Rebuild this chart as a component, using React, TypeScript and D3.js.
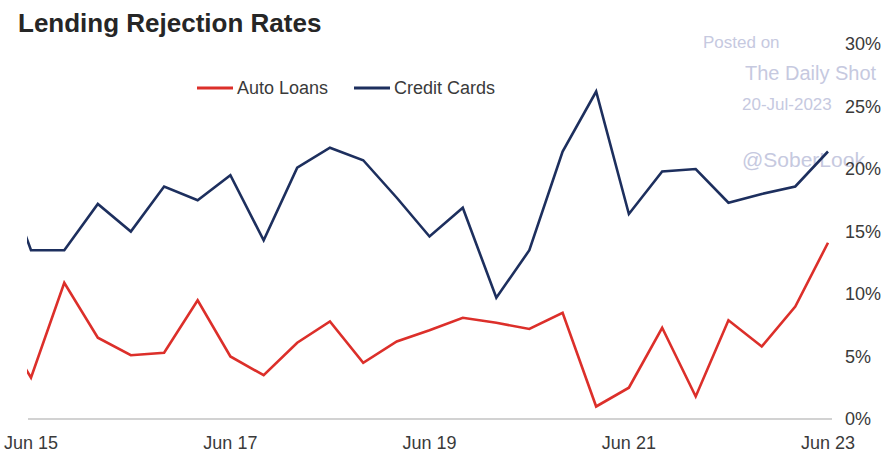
import React from "react";
import * as d3 from "d3";

const dates: string[] = [
  "2015-02-01", "2015-06-01", "2015-10-01", "2016-02-01", "2016-06-01", "2016-10-01",
  "2017-02-01", "2017-06-01", "2017-10-01", "2018-02-01", "2018-06-01", "2018-10-01",
  "2019-02-01", "2019-06-01", "2019-10-01", "2020-02-01", "2020-06-01", "2020-10-01",
  "2021-02-01", "2021-06-01", "2021-10-01", "2022-02-01", "2022-06-01", "2022-10-01",
  "2023-02-01", "2023-06-01",
];
const autoLoans: number[] = [
  7.7, 3.3, 10.9, 6.5, 5.1, 5.3, 9.5, 5.0, 3.5, 6.1, 7.8, 4.5, 6.2, 7.1, 8.1, 7.7, 7.2, 8.5,
  1.0, 2.5, 7.3, 1.8, 7.9, 5.8, 9.0, 14.1,
];
const creditCards: number[] = [
  20.7, 13.5, 13.5, 17.2, 15.0, 18.6, 17.5, 19.5, 14.3, 20.1, 21.7, 20.7, 17.7, 14.6, 16.9,
  9.7, 13.5, 21.4, 26.2, 16.4, 19.8, 20.0, 17.3, 18.0, 18.6, 21.4,
];
const yTicks: number[] = [0, 5, 10, 15, 20, 25, 30];
const xTickDates: string[] = ["2015-06-01", "2017-06-01", "2019-06-01", "2021-06-01", "2023-06-01"];
const xTickLabels: string[] = ["Jun 15", "Jun 17", "Jun 19", "Jun 21", "Jun 23"];
const seriesNames: string[] = ["Auto Loans", "Credit Cards"];
const seriesColors: string[] = ["#dc2f2a", "#1d2f5e"];

const W = 890;
const H = 452;

export default function App() {
  const parse = d3.timeParse("%Y-%m-%d");
  const xs = dates.map((d) => parse(d) as Date);
  const x = d3
    .scaleTime()
    .domain([parse("2015-06-01") as Date, parse("2023-06-01") as Date])
    .range([31, 828]);
  const y = d3.scaleLinear().domain([0, 30]).range([419, 44]);
  const line = d3
    .line<number>()
    .x((_, i) => x(xs[i]))
    .y((v) => y(v));
  const series = [autoLoans, creditCards];
  const font = "'Liberation Sans', Arial, sans-serif";
  const wm = "#c6c9df";

  return (
    <svg
      width={W}
      height={H}
      style={{ position: "absolute", left: 0, top: 0, background: "#fff" }}
      fontFamily={font}
    >
      <defs>
        <clipPath id="plot">
          <rect x={27} y={0} width={806} height={H} />
        </clipPath>
      </defs>
      <text x={18} y={32} fontSize={26} fontWeight="bold" fill="#262626">
        Lending Rejection Rates
      </text>

      {/* legend */}
      {seriesNames.map((n, i) => {
        const lx = i === 0 ? 197 : 354;
        return (
          <g key={n}>
            <line x1={lx} x2={lx + 36} y1={88} y2={88} stroke={seriesColors[i]} strokeWidth={3} />
            <text x={lx + 40} y={94} fontSize={18} fill="#3a3a3a">
              {n}
            </text>
          </g>
        );
      })}

      {/* watermark */}
      <text x={703} y={48} fontSize={17} fill={wm}>Posted on</text>
      <text x={745} y={80} fontSize={20} fill={wm}>The Daily Shot</text>
      <text x={742} y={110} fontSize={17} fill={wm}>20-Jul-2023</text>
      <text x={742} y={167} fontSize={21} fill={wm}>@SoberLook</text>

      {/* baseline */}
      <line x1={28} x2={832} y1={y(0)} y2={y(0)} stroke="#d2d2d2" strokeWidth={2} />

      {/* y axis labels */}
      {yTicks.map((t) => (
        <text key={t} x={845} y={y(t)} dy="0.36em" fontSize={18} fill="#3a3a3a">
          {t}%
        </text>
      ))}

      {/* x axis labels */}
      {xTickDates.map((d, i) => (
        <text key={d} x={x(parse(d) as Date)} y={449} textAnchor="middle" fontSize={18} fill="#3a3a3a">
          {xTickLabels[i]}
        </text>
      ))}

      <g clipPath="url(#plot)">
        {series.map((s, i) => (
          <path
            key={i}
            d={line(s) || ""}
            fill="none"
            stroke={seriesColors[i]}
            strokeWidth={2.6}
            strokeLinejoin="miter"
          />
        ))}
      </g>
    </svg>
  );
}
